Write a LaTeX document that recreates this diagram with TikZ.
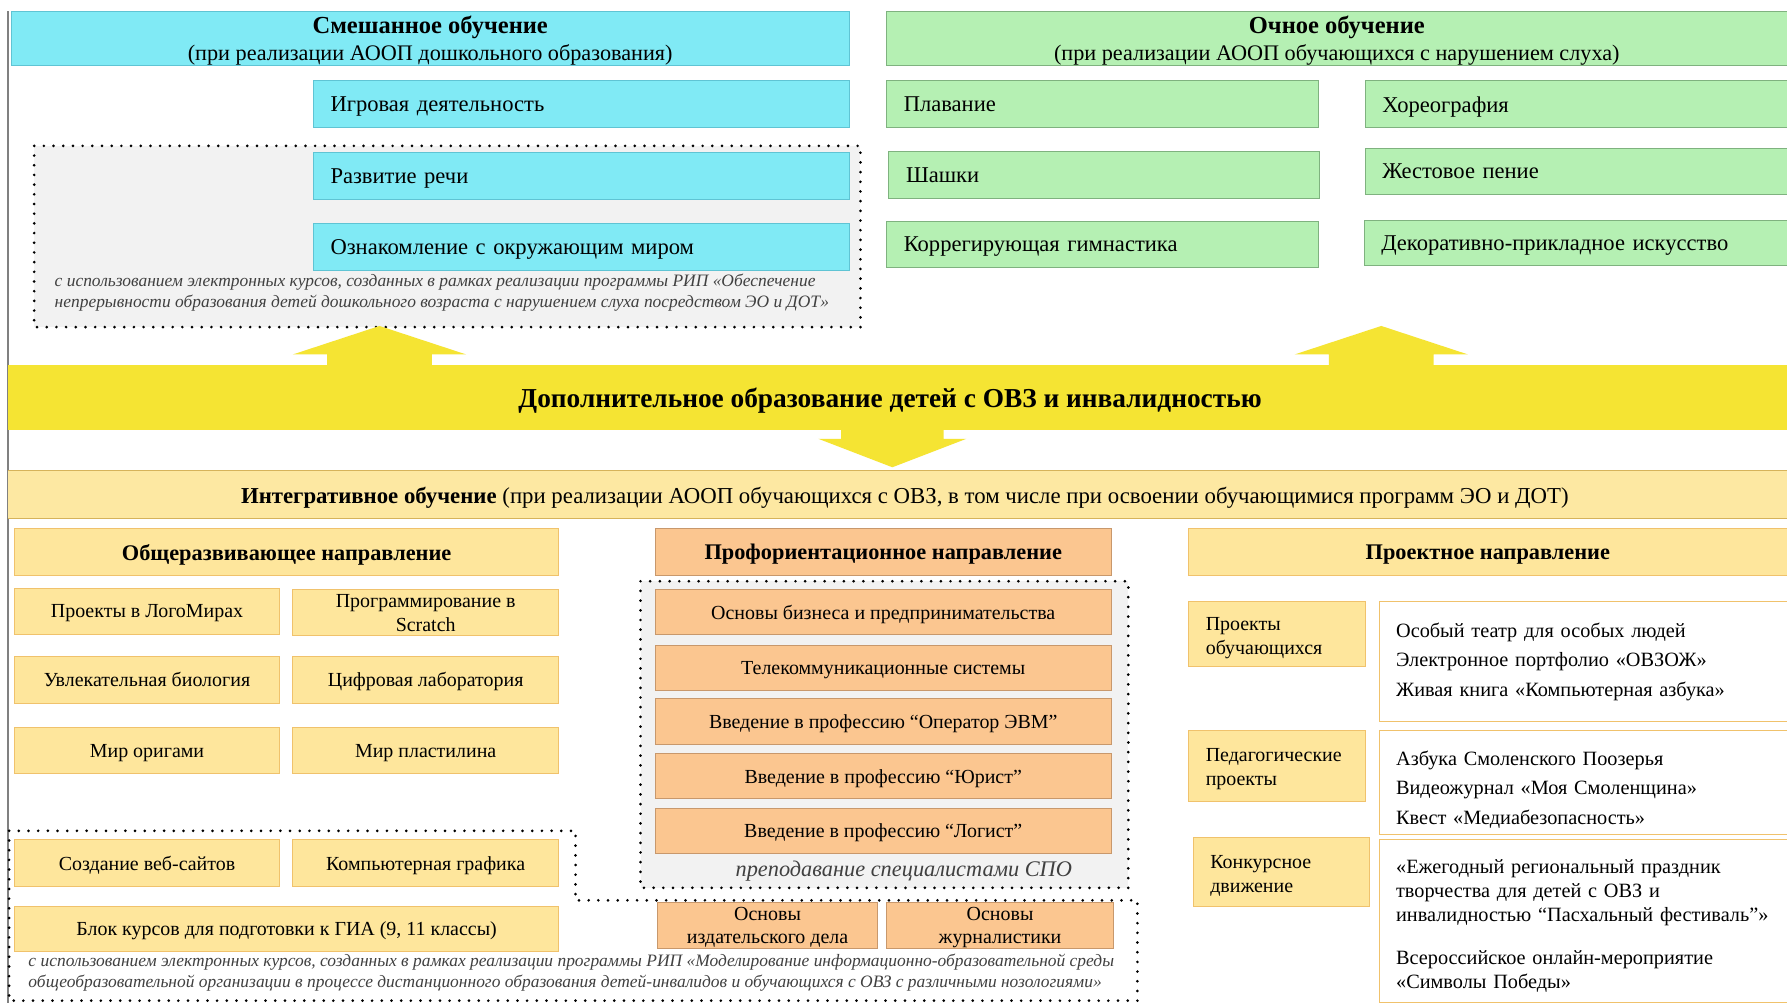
\documentclass[tikz,border=0pt]{standalone}
\usepackage{fontspec}
\setmainfont{Liberation Serif}
\definecolor{cyanF}{HTML}{80EAF5}
\definecolor{cyanD}{HTML}{5FC4D4}
\definecolor{greenF}{HTML}{B5F0B3}
\definecolor{greenD}{HTML}{7FB27F}
\definecolor{bandY}{HTML}{F5E433}
\definecolor{integF}{HTML}{FDE8A2}
\definecolor{integD}{HTML}{D6B35B}
\definecolor{yelF}{HTML}{FEE69C}
\definecolor{yelD}{HTML}{F0C26C}
\definecolor{orF}{HTML}{FBC690}
\definecolor{orD}{HTML}{C8986C}
\definecolor{grayF}{HTML}{F2F2F2}
\definecolor{noteC}{HTML}{404040}
\newcommand\myfh{\fontsize{21.5}{24}\selectfont}
\newcommand\myfs{\fontsize{19.5}{24}\selectfont}
\newcommand\myft{\fontsize{19.8}{22}\selectfont}
\newcommand\myfd{\fontsize{24}{26}\selectfont}
\newcommand\myfi{\fontsize{20}{22}\selectfont}
\newcommand\myfb{\fontsize{17.5}{21}\selectfont}
\newcommand\myfg{\fontsize{19.6}{22}\selectfont}
\newcommand\myfr{\fontsize{17.8}{26}\selectfont}
\newcommand\myfn{\fontsize{15.3}{18}\selectfont}
\begin{document}
\begin{tikzpicture}[x=1pt,y=-1pt,
  every node/.style={inner sep=0pt, outer sep=0pt, text depth=0pt},
  multi/.style={text depth={}},
  cyb/.style={fill=cyanF, draw=cyanD, line width=0.8pt},
  grb/.style={fill=greenF, draw=greenD, line width=0.8pt},
  yeb/.style={fill=yelF, draw=yelD, line width=0.8pt},
  orb/.style={fill=orF, draw=orD, line width=0.8pt},
  whb/.style={fill=white, draw=yelD, line width=0.8pt},
  lt/.style={align=left, inner xsep=15pt, anchor=north west},
  ct/.style={align=center, anchor=north west},
  dotbox/.style={draw=black, line width=2.6pt, line cap=round, dash pattern=on 0pt off 8.5pt},
  note/.style={anchor=west, align=left, text=noteC, font=\myfn\itshape}]
\useasboundingbox (0,0) rectangle (1568,880);
\fill[white] (0,0) rectangle (1568,880);
\draw[gray, line width=1pt] (7,10) -- (7,880);

% ---------- top left: blended learning
\node[cyb, ct, minimum width=735pt, minimum height=47pt, font=\myfs] (hmix) at (10,10)
  {{\myfh\bfseries Смешанное обучение}\\(при реализации АООП дошкольного образования)};
\node[cyb, lt, minimum width=470pt, minimum height=41pt, text width=440pt, font=\myft] (igr) at (275,71) {Игровая деятельность};
\draw[dotbox, fill=grayF] (30,128) rectangle (755,287);
\node[cyb, lt, minimum width=470pt, minimum height=41pt, text width=440pt, font=\myft] (rech) at (275,134) {Развитие речи};
\node[cyb, lt, minimum width=470pt, minimum height=41pt, text width=440pt, font=\myft] (mir) at (275,196) {Ознакомление с окружающим миром};
\node[note] (note1) at (48,255) {с использованием электронных курсов, созданных в рамках реализации программы РИП «Обеспечение\\непрерывности образования детей дошкольного возраста с нарушением слуха посредством ЭО и ДОТ»};

% ---------- top right: full-time learning
\node[grb, ct, minimum width=790pt, minimum height=47pt, font=\myfs] (hfull) at (778,10)
  {{\myfh\bfseries Очное обучение}\\(при реализации АООП обучающихся с нарушением слуха)};
\node[grb, lt, minimum width=379pt, minimum height=41pt, text width=349pt, font=\myft] (plav) at (778,71) {Плавание};
\node[grb, lt, minimum width=378pt, minimum height=41pt, text width=348pt, font=\myft] (shash) at (780,133) {Шашки};
\node[grb, lt, minimum width=379pt, minimum height=41pt, text width=349pt, font=\myft] (gimn) at (778,194) {Коррегирующая гимнастика};
\node[grb, lt, minimum width=370pt, minimum height=41pt, text width=340pt, font=\myft] (hor) at (1198,71) {Хореография};
\node[grb, lt, minimum width=370pt, minimum height=41pt, text width=340pt, font=\myft] (zhest) at (1198,130) {Жестовое пение};
\node[grb, lt, minimum width=371pt, minimum height=40pt, text width=341pt, font=\myft] (dekor) at (1197,193) {Декоративно-прикладное искусство};

% ---------- central band with arrows
\fill[bandY] (7,320) rectangle (1568,377);
\fill[bandY] (287,321) -- (287,311) -- (257,311) -- (333,286) -- (409,311) -- (379,311) -- (379,321) -- cycle;
\fill[bandY] (1166,321) -- (1166,311) -- (1136,311) -- (1212,286) -- (1288,311) -- (1258,311) -- (1258,321) -- cycle;
\fill[bandY] (738,376) -- (738,385) -- (718,385) -- (783,410) -- (848,385) -- (828,385) -- (828,376) -- cycle;
\node[font=\myfd\bfseries] (dop) at (781,349) {Дополнительное образование детей с ОВЗ и инвалидностью};

% ---------- integrative band
\fill[integF] (7,413) rectangle (1568,455);
\draw[integD, line width=1pt] (7,413) -- (1568,413);
\draw[integD, line width=1pt] (7,455) -- (1568,455);
\node[font=\myfi] (integ) at (794,435) {\textbf{Интегративное обучение} (при реализации АООП обучающихся с ОВЗ, в том числе при освоении обучающимися программ ЭО и ДОТ)};

% ---------- dotted areas (bottom)
\draw[dotbox] (8,729) -- (505,729) -- (505,790) -- (998,790) -- (998,878) -- (8,878) -- cycle;
\draw[dotbox, fill=grayF] (562,510) rectangle (990,779);

% ---------- general development column
\node[yeb, ct, minimum width=477pt, minimum height=41pt, font=\myfg\bfseries] (gen) at (13,464) {Общеразвивающее направление};
\node[yeb, ct, minimum width=232pt, minimum height=41pt, font=\myfb] (logo) at (13,516) {Проекты в ЛогоМирах};
\node[yeb, ct, minimum width=233pt, minimum height=41pt, font=\myfb] (scr) at (257,517) {Программирование в\\Scratch};
\node[yeb, ct, minimum width=232pt, minimum height=41pt, font=\myfb] (bio) at (13,576) {Увлекательная биология};
\node[yeb, ct, minimum width=233pt, minimum height=41pt, font=\myfb] (lab) at (257,576) {Цифровая лаборатория};
\node[yeb, ct, minimum width=232pt, minimum height=41pt, font=\myfb] (ori) at (13,638) {Мир оригами};
\node[yeb, ct, minimum width=233pt, minimum height=41pt, font=\myfb] (plast) at (257,638) {Мир пластилина};
\node[yeb, ct, minimum width=232pt, minimum height=41pt, font=\myfb] (web) at (13,737) {Создание веб-сайтов};
\node[yeb, ct, minimum width=233pt, minimum height=41pt, font=\myfb] (graf) at (257,737) {Компьютерная графика};
\node[yeb, ct, minimum width=477pt, minimum height=40pt, font=\myfb] (gia) at (13,795) {Блок курсов для подготовки к ГИА (9, 11 классы)};
\node[note] (note2) at (25,852) {с использованием электронных курсов, созданных в рамках реализации программы РИП «Моделирование информационно-образовательной среды\\общеобразовательной организации в процессе дистанционного образования детей-инвалидов и обучающихся с ОВЗ с различными нозологиями»};

% ---------- career guidance column
\node[orb, ct, minimum width=400pt, minimum height=41pt, font=\myfg\bfseries] (prof) at (575,464) {Профориентационное направление};
\node[orb, ct, minimum width=400pt, minimum height=40pt, font=\myfb] (biz) at (575,517) {Основы бизнеса и предпринимательства};
\node[orb, ct, minimum width=400pt, minimum height=40pt, font=\myfb] (tele) at (575,566) {Телекоммуникационные системы};
\node[orb, ct, minimum width=400pt, minimum height=40pt, font=\myfb] (oper) at (575,613) {Введение в профессию “Оператор ЭВМ”};
\node[orb, ct, minimum width=400pt, minimum height=40pt, font=\myfb] (jur) at (575,661) {Введение в профессию “Юрист”};
\node[orb, ct, minimum width=400pt, minimum height=40pt, font=\myfb] (log) at (575,709) {Введение в профессию “Логист”};
\node[font=\myfg\itshape, text=noteC] (spo) at (793,762) {преподавание специалистами СПО};
\node[orb, ct, minimum width=193pt, minimum height=40pt, font=\myfb] (izd) at (577,792) {Основы\\издательского дела};
\node[orb, ct, minimum width=199pt, minimum height=40pt, font=\myfb] (zhur) at (778,792) {Основы\\журналистики};

% ---------- project column
\node[yeb, ct, minimum width=525pt, minimum height=41pt, font=\myfg\bfseries] (proj) at (1043,464) {Проектное направление};
\node[yeb, lt, multi, minimum width=155pt, minimum height=57pt, text width=125pt, font=\myfb] (pob) at (1043,528) {\rule{0pt}{18pt}Проекты\\обучающихся};
\node[whb, lt, multi, minimum width=358pt, minimum height=105pt, text width=328pt, font=\myfr] (pobl) at (1210,528) {Особый театр для особых людей\\Электронное портфолио «ОВЗОЖ»\\Живая книга «Компьютерная азбука»};
\node[yeb, lt, multi, minimum width=155pt, minimum height=62pt, text width=125pt, font=\myfb] (ped) at (1043,641) {\rule{0pt}{17pt}Педагогические\\проекты};
\node[whb, lt, multi, minimum width=358pt, minimum height=91pt, text width=328pt, font=\myfr] (pedl) at (1210,641) {\rule{0pt}{25pt}Азбука Смоленского Поозерья\\Видеожурнал «Моя Смоленщина»\\Квест «Медиабезопасность»};
\node[yeb, lt, multi, minimum width=155pt, minimum height=60pt, text width=125pt, font=\myfb] (konk) at (1047,735) {\rule{0pt}{18pt}Конкурсное\\движение};
\node[whb, lt, multi, minimum width=358pt, minimum height=143pt, text width=328pt, font=\fontsize{17.8}{21}\selectfont] (konkl) at (1210,737) {\rule{0pt}{20pt}«Ежегодный региональный праздник\\творчества для детей с ОВЗ и\\инвалидностью “Пасхальный фестиваль”»\\[17pt]Всероссийское онлайн-мероприятие\\«Символы Победы»};
\end{tikzpicture}
\end{document}
